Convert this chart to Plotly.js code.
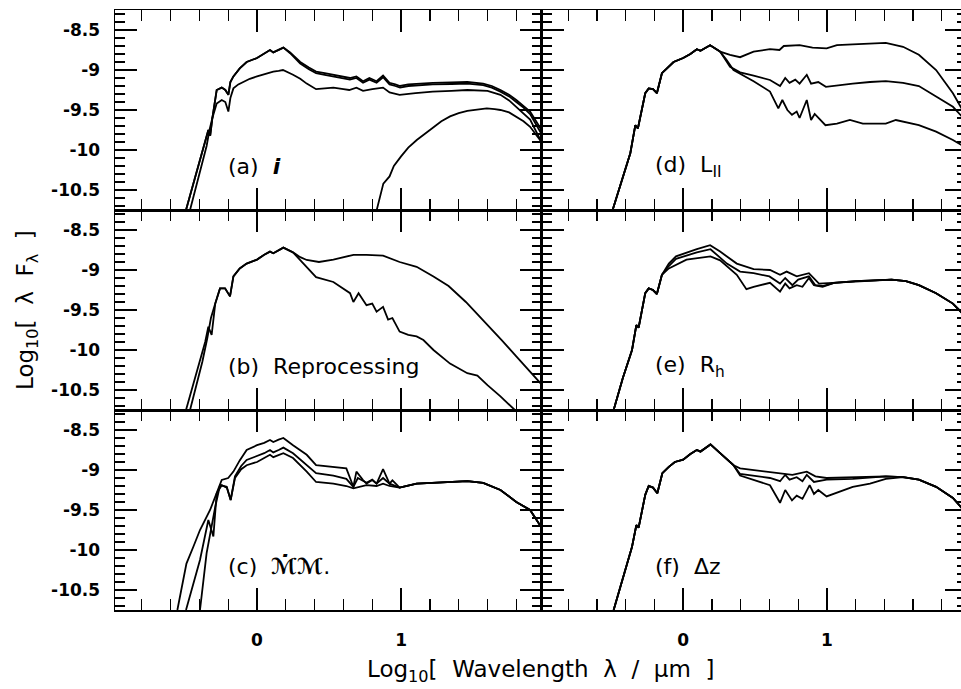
<!DOCTYPE html>
<html><head><meta charset="utf-8">
<script src="https://cdn.plot.ly/plotly-3.0.1.min.js"></script>
<style>html,body{margin:0;padding:0;overflow:hidden;background:#fff}#chart{width:967px;height:689px}</style>
</head><body><div id="chart"></div>
<script>
// ---------- axis ticks ----------
const xTickVals = [0, 1];
const xTickText = ["0", "1"];
const yTickVals = [-10.5, -10, -9.5, -9, -8.5];
const yTickText = ["-10.5", "-10", "-9.5", "-9", "-8.5"];
const panelLabels = ["(a)\u00a0 <b><i>i</i></b>", "(b)\u00a0 Reprocessing", "(c)\u00a0 <b><i>\u2133\u0307\u2133</i></b>.",
                     "(d)\u00a0 L<sub>II</sub>", "(e)\u00a0 R<sub>h</sub>", "(f)\u00a0 \u0394z"];

// ---------- panel (a) : inclination ----------
const a1X = [-0.493,-0.44,-0.396,-0.36,-0.338,-0.325,-0.31,-0.28,-0.245,-0.22,-0.199,-0.185,-0.164,-0.12,-0.072,0,0.05,0.09,0.113,0.15,0.183,0.23,0.3,0.36,0.41,0.47,0.53,0.6,0.645,0.69,0.736,0.78,0.83,0.875,0.92,0.96,0.993,1.05,1.108,1.22,1.35,1.46,1.57,1.63,1.69,1.75,1.80,1.85,1.896,1.975];
const a1Y = [-10.75,-10.4,-10.125,-9.9,-9.75,-9.82,-9.6,-9.25,-9.22,-9.25,-9.31,-9.15,-9.08,-8.98,-8.90,-8.85,-8.8,-8.75,-8.78,-8.75,-8.72,-8.78,-8.90,-8.97,-9.02,-9.04,-9.06,-9.08,-9.1,-9.08,-9.14,-9.1,-9.14,-9.07,-9.16,-9.18,-9.2,-9.18,-9.17,-9.16,-9.155,-9.15,-9.17,-9.2,-9.25,-9.31,-9.375,-9.45,-9.52,-9.75];
const a2X = [-0.493,-0.44,-0.396,-0.36,-0.338,-0.325,-0.31,-0.28,-0.245,-0.22,-0.199,-0.185,-0.164,-0.12,-0.072,0,0.05,0.09,0.113,0.15,0.183,0.23,0.3,0.36,0.41,0.47,0.53,0.6,0.645,0.69,0.736,0.78,0.83,0.875,0.92,0.96,0.993,1.05,1.108,1.22,1.35,1.46,1.57,1.63,1.69,1.75,1.80,1.85,1.896,1.975];
const a2Y = [-10.75,-10.4,-10.125,-9.9,-9.75,-9.82,-9.6,-9.25,-9.22,-9.25,-9.31,-9.15,-9.08,-8.98,-8.90,-8.85,-8.8,-8.75,-8.78,-8.75,-8.72,-8.79,-8.92,-8.99,-9.04,-9.06,-9.08,-9.1,-9.12,-9.1,-9.16,-9.12,-9.16,-9.09,-9.18,-9.2,-9.22,-9.2,-9.19,-9.18,-9.175,-9.17,-9.19,-9.22,-9.27,-9.33,-9.4,-9.47,-9.55,-9.8];
const a3X = [-0.465,-0.42,-0.373,-0.35,-0.33,-0.31,-0.28,-0.245,-0.22,-0.199,-0.185,-0.164,-0.13,-0.095,-0.05,0,0.05,0.09,0.113,0.15,0.18,0.25,0.3,0.345,0.41,0.47,0.53,0.6,0.64,0.69,0.736,0.8,0.875,0.92,0.99,1.1,1.22,1.35,1.46,1.6,1.69,1.75,1.80,1.85,1.896,1.975];
const a3Y = [-10.75,-10.45,-10.125,-9.95,-9.75,-9.6,-9.42,-9.375,-9.4,-9.52,-9.35,-9.23,-9.18,-9.15,-9.11,-9.08,-9.05,-9.03,-9.02,-9.01,-9.0,-9.06,-9.11,-9.17,-9.24,-9.23,-9.22,-9.24,-9.25,-9.22,-9.26,-9.24,-9.22,-9.28,-9.31,-9.29,-9.27,-9.26,-9.25,-9.26,-9.31,-9.38,-9.46,-9.54,-9.62,-9.9];
const a4X = [0.831,0.86,0.877,0.92,0.95,1.0,1.05,1.109,1.17,1.225,1.28,1.34,1.4,1.46,1.53,1.595,1.65,1.69,1.75,1.80,1.85,1.896,1.975];
const a4Y = [-10.75,-10.55,-10.42,-10.33,-10.2,-10.08,-9.97,-9.875,-9.79,-9.71,-9.64,-9.58,-9.54,-9.51,-9.49,-9.48,-9.49,-9.5,-9.53,-9.58,-9.64,-9.71,-9.9];

// ---------- panel (b) : reprocessing ----------
const b1X = [-0.493,-0.44,-0.396,-0.36,-0.338,-0.315,-0.29,-0.257,-0.222,-0.1875,-0.164,-0.12,-0.072,0,0.05,0.09,0.113,0.15,0.183,0.25,0.3,0.345,0.41,0.53,0.6,0.646,0.669,0.705,0.76,0.80,0.83,0.875,0.91,0.94,0.99,1.05,1.108,1.155,1.225,1.34,1.46,1.53,1.6,1.69,1.79];
const b1Y = [-10.75,-10.4,-10.125,-9.9,-9.71,-9.81,-9.42,-9.23,-9.23,-9.33,-9.08,-8.98,-8.92,-8.87,-8.81,-8.77,-8.79,-8.75,-8.72,-8.78,-8.88,-8.96,-9.09,-9.15,-9.24,-9.29,-9.40,-9.29,-9.44,-9.42,-9.52,-9.46,-9.62,-9.6,-9.77,-9.81,-9.83,-9.875,-10.0,-10.17,-10.29,-10.32,-10.44,-10.58,-10.75];
const b2X = [-0.465,-0.42,-0.38,-0.345,-0.32,-0.29,-0.257,-0.222,-0.1875,-0.164,-0.12,-0.072,0,0.05,0.09,0.113,0.15,0.183,0.25,0.3,0.345,0.43,0.53,0.6,0.67,0.76,0.875,0.99,1.108,1.225,1.33,1.45,1.57,1.7,1.8,1.896,1.975];
const b2Y = [-10.75,-10.45,-10.15,-9.85,-9.6,-9.42,-9.23,-9.23,-9.33,-9.08,-8.98,-8.92,-8.87,-8.81,-8.77,-8.79,-8.75,-8.72,-8.78,-8.84,-8.875,-8.9,-8.87,-8.84,-8.81,-8.81,-8.82,-8.9,-8.96,-9.08,-9.2,-9.4,-9.625,-9.88,-10.08,-10.27,-10.43];

// ---------- panel (c) : accretion rate ----------
const cTailX = [1.108,1.22,1.35,1.46,1.57,1.69,1.80,1.896,1.975];
const cTailY = [-9.17,-9.16,-9.15,-9.14,-9.16,-9.25,-9.40,-9.50,-9.72];
const c1X = [-0.553,-0.49,-0.44,-0.396,-0.326,-0.28,-0.245,-0.2,-0.164,-0.12,-0.072,0,0.05,0.09,0.113,0.15,0.183,0.25,0.345,0.41,0.53,0.62,0.669,0.69,0.736,0.76,0.80,0.83,0.875,0.92,0.94,0.99];
const c1Y = [-10.75,-10.17,-9.95,-9.75,-9.5,-9.3,-9.125,-9.1,-9.02,-8.88,-8.75,-8.69,-8.66,-8.625,-8.65,-8.62,-8.60,-8.69,-8.81,-8.94,-8.96,-8.98,-9.21,-9.02,-9.125,-9.17,-9.125,-9.17,-8.99,-9.17,-9.13,-9.22];
const c2X = [-0.493,-0.44,-0.396,-0.338,-0.303,-0.28,-0.245,-0.21,-0.183,-0.153,-0.11,-0.072,0,0.05,0.09,0.113,0.15,0.183,0.25,0.345,0.41,0.53,0.62,0.669,0.70,0.76,0.80,0.83,0.875,0.92,0.99];
const c2Y = [-10.75,-10.4,-10.125,-9.625,-9.83,-9.29,-9.19,-9.22,-9.375,-9.08,-8.95,-8.875,-8.83,-8.79,-8.75,-8.78,-8.75,-8.72,-8.79,-8.94,-9.04,-9.07,-9.11,-9.21,-9.1,-9.16,-9.12,-9.17,-9.1,-9.17,-9.22];
const c3X = [-0.396,-0.35,-0.29,-0.257,-0.21,-0.183,-0.153,-0.11,-0.072,0,0.05,0.09,0.113,0.15,0.183,0.25,0.345,0.41,0.53,0.62,0.669,0.76,0.83,0.875,0.92,0.99];
const c3Y = [-10.75,-10.04,-9.46,-9.19,-9.21,-9.375,-9.1,-8.99,-8.94,-8.9,-8.85,-8.81,-8.84,-8.81,-8.79,-8.85,-9.02,-9.15,-9.17,-9.2,-9.23,-9.19,-9.2,-9.17,-9.2,-9.22];

// ---------- panel (d) : L_II ----------
const dRiseX = [-0.491,-0.43,-0.368,-0.333,-0.315,-0.264,-0.24,-0.21,-0.183,-0.148,-0.1,-0.067,0,0.05,0.095,0.12,0.1875,0.257];
const dRiseY = [-10.75,-10.4,-10.04,-9.69,-9.73,-9.29,-9.23,-9.24,-9.29,-9.04,-8.96,-8.90,-8.85,-8.8,-8.74,-8.76,-8.69,-8.77];
const d1X = [0.326,0.396,0.49,0.604,0.67,0.70,0.81,0.90,0.998,1.07,1.18,1.3,1.41,1.53,1.64,1.76,1.877,1.975];
const d1Y = [-8.81,-8.84,-8.77,-8.74,-8.75,-8.70,-8.69,-8.72,-8.73,-8.69,-8.68,-8.67,-8.66,-8.71,-8.81,-9.0,-9.29,-9.6];
const d2X = [0.326,0.396,0.49,0.604,0.674,0.71,0.74,0.78,0.81,0.86,0.89,0.94,0.993,1.07,1.18,1.3,1.41,1.53,1.64,1.76,1.877,1.975];
const d2Y = [-8.96,-9.03,-9.07,-9.125,-9.2,-9.1,-9.16,-9.12,-9.17,-9.06,-9.17,-9.15,-9.21,-9.19,-9.17,-9.15,-9.14,-9.16,-9.2,-9.33,-9.46,-9.65];
const d3X = [0.3,0.35,0.49,0.604,0.662,0.69,0.725,0.757,0.79,0.81,0.86,0.89,0.915,0.99,1.07,1.16,1.25,1.41,1.48,1.64,1.76,1.877,1.975];
const d3Y = [-8.87,-9.0,-9.14,-9.27,-9.48,-9.375,-9.5,-9.56,-9.52,-9.6,-9.375,-9.625,-9.55,-9.69,-9.67,-9.625,-9.67,-9.67,-9.625,-9.69,-9.77,-9.875,-9.98];

// ---------- panel (e) : R_h ----------
const eRiseX = [-0.484,-0.42,-0.356,-0.326,-0.31,-0.264,-0.24,-0.21,-0.183,-0.148];
const eRiseY = [-10.75,-10.35,-10.0,-9.69,-9.72,-9.29,-9.23,-9.25,-9.3,-9.06];
const eTailX = [1.05,1.2,1.45,1.55,1.64,1.76,1.877,1.975];
const eTailY = [-9.16,-9.14,-9.12,-9.14,-9.19,-9.29,-9.42,-9.6];
const e1X = [-0.1,-0.05,0.095,0.1875,0.257,0.373,0.49,0.604,0.674,0.72,0.79,0.875,0.945];
const e1Y = [-8.92,-8.83,-8.74,-8.69,-8.77,-8.92,-8.99,-9.0,-9.06,-9.02,-9.08,-9.04,-9.17];
const e2X = [-0.1,-0.05,0.095,0.19,0.304,0.396,0.49,0.6,0.674,0.71,0.76,0.80,0.875,0.92,0.97];
const e2Y = [-8.95,-8.86,-8.78,-8.74,-8.92,-9.02,-9.04,-9.08,-9.17,-9.1,-9.19,-9.12,-9.08,-9.19,-9.2];
const e3X = [-0.1,0.023,0.19,0.257,0.373,0.44,0.49,0.604,0.674,0.71,0.74,0.79,0.83,0.875,0.91,0.97];
const e3Y = [-8.98,-8.87,-8.83,-8.88,-9.06,-9.24,-9.21,-9.16,-9.27,-9.17,-9.23,-9.19,-9.21,-9.10,-9.19,-9.21];

// ---------- panel (f) : Delta z ----------
const fRiseX = [-0.484,-0.42,-0.356,-0.326,-0.31,-0.264,-0.24,-0.21,-0.18,-0.145,-0.1,-0.058,0,0.05,0.095,0.12,0.19,0.257,0.35];
const fRiseY = [-10.75,-10.35,-9.96,-9.69,-9.72,-9.31,-9.2,-9.22,-9.29,-9.04,-8.96,-8.9,-8.87,-8.8,-8.75,-8.77,-8.68,-8.79,-8.94];
const fTailX = [1.53,1.64,1.76,1.877,1.975];
const fTailY = [-9.09,-9.12,-9.21,-9.35,-9.55];
const f1X = [0.396,0.49,0.604,0.69,0.76,0.86,0.92,0.998,1.18,1.41];
const f1Y = [-8.98,-9.0,-9.03,-9.04,-9.06,-9.02,-9.08,-9.1,-9.09,-9.08];
const f2X = [0.396,0.49,0.604,0.674,0.71,0.74,0.79,0.83,0.86,0.91,0.998,1.18,1.41];
const f2Y = [-9.05,-9.07,-9.1,-9.14,-9.06,-9.12,-9.09,-9.14,-9.06,-9.15,-9.12,-9.11,-9.08];
const f3X = [0.396,0.49,0.604,0.674,0.71,0.757,0.79,0.83,0.88,0.91,0.94,0.998,1.08,1.18,1.3,1.41];
const f3Y = [-9.07,-9.125,-9.19,-9.41,-9.25,-9.38,-9.32,-9.36,-9.19,-9.3,-9.25,-9.33,-9.28,-9.21,-9.17,-9.11];

// ---------- build ----------
const W = 967, H = 689;
const xRange = [-0.986, 1.975];
const yRange = [-10.75, -8.25];
const colDom = [[115 / W, 541.5 / W], [541.5 / W, 1]];
const rowDom = [[479 / H, 679 / H], [279 / H, 479 / H], [79 / H, 279 / H]];
const line = {color: '#000', width: 1.8};

function tr(x, y, n) {
  return {x: x, y: y, xaxis: 'x' + (n === 1 ? '' : n), yaxis: 'y' + (n === 1 ? '' : n),
          mode: 'lines', line: line, showlegend: false, hoverinfo: 'skip'};
}
const data = [
  tr(a4X, a4Y, 1), tr(a3X, a3Y, 1), tr(a2X, a2Y, 1), tr(a1X, a1Y, 1),
  tr(b1X, b1Y, 2), tr(b2X, b2Y, 2),
  tr(c1X.concat(cTailX), c1Y.concat(cTailY), 3), tr(c2X.concat(cTailX), c2Y.concat(cTailY), 3), tr(c3X.concat(cTailX), c3Y.concat(cTailY), 3),
  tr(dRiseX.concat(d1X), dRiseY.concat(d1Y), 4), tr(dRiseX.concat(d2X), dRiseY.concat(d2Y), 4), tr(dRiseX.concat(d3X), dRiseY.concat(d3Y), 4),
  tr(eRiseX.concat(e1X, eTailX), eRiseY.concat(e1Y, eTailY), 5), tr(eRiseX.concat(e2X, eTailX), eRiseY.concat(e2Y, eTailY), 5), tr(eRiseX.concat(e3X, eTailX), eRiseY.concat(e3Y, eTailY), 5),
  tr(fRiseX.concat(f1X, fTailX), fRiseY.concat(f1Y, fTailY), 6), tr(fRiseX.concat(f2X, fTailX), fRiseY.concat(f2Y, fTailY), 6), tr(fRiseX.concat(f3X, fTailX), fRiseY.concat(f3Y, fTailY), 6)
];

const tickFont = {family: 'DejaVu Sans', size: 17, color: '#000', weight: 'bold'};
function xAx(col, row, n) {
  return {domain: colDom[col], range: xRange, anchor: 'y' + (n === 1 ? '' : n),
    showline: true, linecolor: '#000', linewidth: 1.5, mirror: 'allticks',
    ticks: 'inside', ticklen: 22, tickwidth: 1.4, tickcolor: '#000',
    tickmode: 'array', tickvals: xTickVals, ticktext: xTickText,
    showticklabels: row === 2, tickfont: tickFont, ticklabelstandoff: 14,
    minor: {ticks: 'inside', ticklen: 11, tickwidth: 1.3, tickcolor: '#000', dtick: 0.2, tick0: 0, showgrid: false},
    showgrid: false, zeroline: false, fixedrange: true};
}
function yAx(col, row, n) {
  return {domain: rowDom[row], range: yRange, anchor: 'x' + (n === 1 ? '' : n),
    showline: true, linecolor: '#000', linewidth: 1.5, mirror: 'allticks',
    ticks: 'inside', ticklen: 22, tickwidth: 1.4, tickcolor: '#000',
    tickmode: 'array', tickvals: yTickVals, ticktext: yTickText,
    showticklabels: col === 0, tickfont: tickFont, ticklabelstandoff: 10,
    minor: {ticks: 'inside', ticklen: 10, tickwidth: 1.2, tickcolor: '#000', dtick: 0.1, tick0: -8.5, showgrid: false},
    showgrid: false, zeroline: false, fixedrange: true};
}

const layout = {width: W, height: H, margin: {l: 0, r: 0, t: 0, b: 0},
  paper_bgcolor: '#fff', plot_bgcolor: '#fff', showlegend: false,
  font: {family: 'DejaVu Sans', color: '#000'}, annotations: []};
let n = 1;
for (let col = 0; col < 2; col++) {
  for (let row = 0; row < 3; row++) {
    const s = n === 1 ? '' : n;
    layout['xaxis' + s] = xAx(col, row, n);
    layout['yaxis' + s] = yAx(col, row, n);
    layout.annotations.push({text: panelLabels[n - 1], xref: 'paper', yref: 'paper',
      x: (col === 0 ? 226 : 653) / W, y: 1 - (166 + 200 * row) / H,
      xanchor: 'left', yanchor: 'middle', showarrow: false,
      font: {family: 'DejaVu Sans', size: 22, color: '#000'}});
    n++;
  }
}
layout.annotations.push({text: 'Log<sub>10</sub>[\u00a0 Wavelength \u00a0\u03bb \u00a0/ \u00a0\u03bcm \u00a0]', xref: 'paper', yref: 'paper',
  x: 540 / W, y: 1 - 671 / H, xanchor: 'center', yanchor: 'middle', showarrow: false,
  font: {family: 'DejaVu Sans', size: 23, color: '#000'}});
layout.annotations.push({text: 'Log<sub>10</sub>[\u00a0 \u03bb \u00a0F<sub>\u03bb</sub> \u00a0]', xref: 'paper', yref: 'paper',
  x: 27 / W, y: 1 - 310 / H, xanchor: 'center', yanchor: 'middle', showarrow: false, textangle: -90,
  font: {family: 'DejaVu Sans', size: 23, color: '#000'}});

Plotly.newPlot('chart', data, layout, {staticPlot: true, displayModeBar: false});
</script></body></html>
